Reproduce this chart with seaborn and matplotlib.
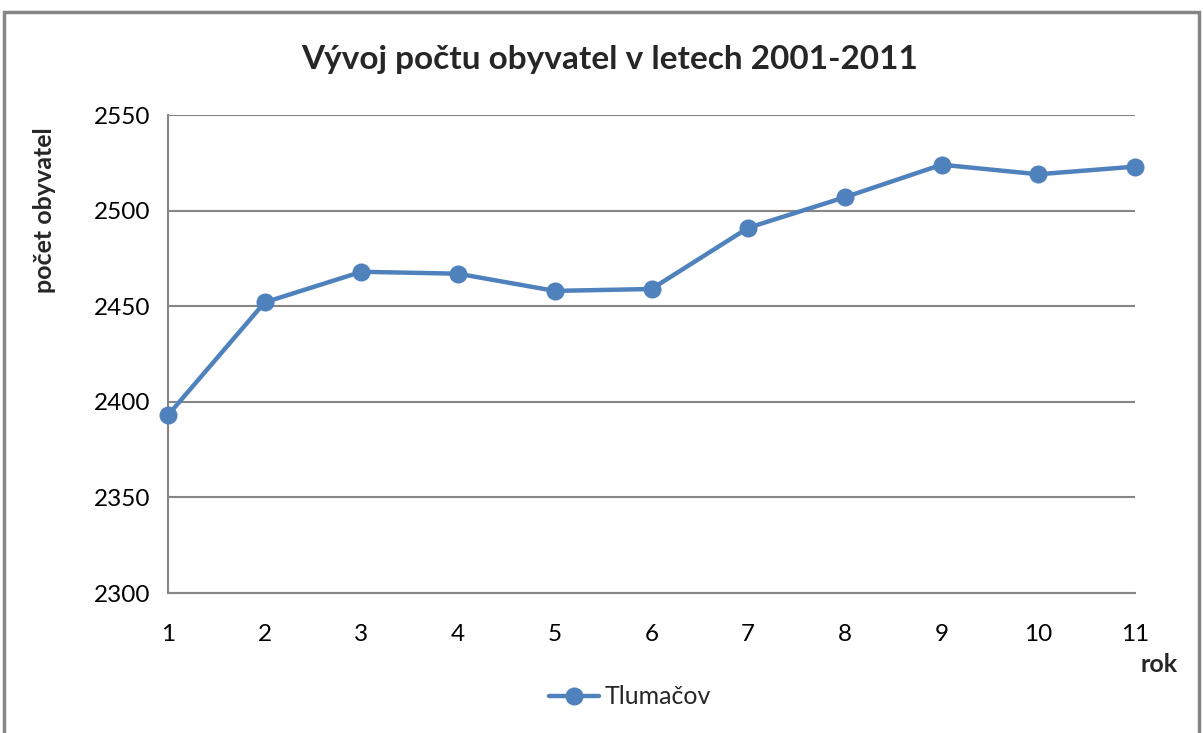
#!/usr/bin/env python3
# population trend chart

import matplotlib
matplotlib.use('Agg')
import matplotlib.pyplot as plt
import pandas as pd
import seaborn as sns
from matplotlib.patches import Rectangle

# Data =========================================================================

years = [1, 2, 3, 4, 5, 6, 7, 8, 9, 10, 11]
population = [2393, 2452, 2468, 2467, 2458, 2459, 2491, 2507, 2524, 2519, 2523]
series_name = 'Tlumačov'
y_ticks = [2300, 2350, 2400, 2450, 2500, 2550]

title = 'Vývoj počtu obyvatel v letech 2001-2011'
y_label = 'počet obyvatel'
x_label = 'rok'


def main():
    sns.set_style('white')
    plt.rcParams['font.family'] = ['Lato', 'DejaVu Sans']
    grey = '#868686'
    blue = '#4F81BD'

    df = pd.DataFrame({'rok': years, 'obyvatel': population, 'obec': series_name})

    fig = plt.figure(figsize=(12.03, 7.33), dpi=100)
    ax = fig.add_axes([168 / 1203, 1 - 593 / 733, (1135 - 168) / 1203, (593 - 115) / 733])

    sns.lineplot(data=df, x='rok', y='obyvatel', hue='obec', palette=[blue],
                 marker='o', markersize=13, linewidth=3.2, markeredgewidth=0,
                 ax=ax, legend=False)
    for line in ax.lines:
        line.set_clip_on(False)
        line.set_zorder(5)

    ax.set_xlim(1, 11)
    ax.set_ylim(2300, 2550)
    ax.set_xticks(years)
    ax.set_yticks(y_ticks)
    ax.tick_params(axis='both', labelsize=17.5, colors=grey, labelcolor='black',
                   length=6, width=1.2, direction='out')
    ax.tick_params(axis='x', pad=16)
    ax.tick_params(axis='y', length=8, pad=5)
    ax.grid(axis='y', color=grey, linewidth=1.5)
    ax.set_axisbelow(True)
    for side in ('top', 'right'):
        ax.spines[side].set_visible(False)
    for side in ('left', 'bottom'):
        ax.spines[side].set_color(grey)
        ax.spines[side].set_linewidth(1.5)
    ax.set_xlabel('')
    ax.set_ylabel('')

    fig.text(610 / 1203, 1 - 60 / 733, title, ha='center', va='center',
             fontsize=24, fontweight='bold')
    fig.text(45 / 1203, 1 - 210 / 733, y_label, rotation=90, ha='center',
             va='center', fontsize=18, fontweight='bold')
    fig.text(1159 / 1203, 1 - 664 / 733, x_label, ha='center', va='center',
             fontsize=18, fontweight='bold')

    # legend below the axis
    handle = plt.Line2D([], [], color=blue, marker='o', markersize=13,
                        linewidth=3.2, markeredgewidth=0)
    fig.legend([handle], [series_name], loc='center', frameon=False,
               bbox_to_anchor=(630 / 1203, 1 - 697 / 733), fontsize=18,
               handlelength=2.0, handletextpad=0.2)

    # outer chart frame
    fig.patches.append(Rectangle((4 / 1203, -0.05), 1195 / 1203, 1.05 - 12 / 733,
                                 transform=fig.transFigure, fill=False,
                                 edgecolor=grey, linewidth=2.5))

    fig.savefig('out.png', dpi=100)


if __name__ == '__main__':
    main()
